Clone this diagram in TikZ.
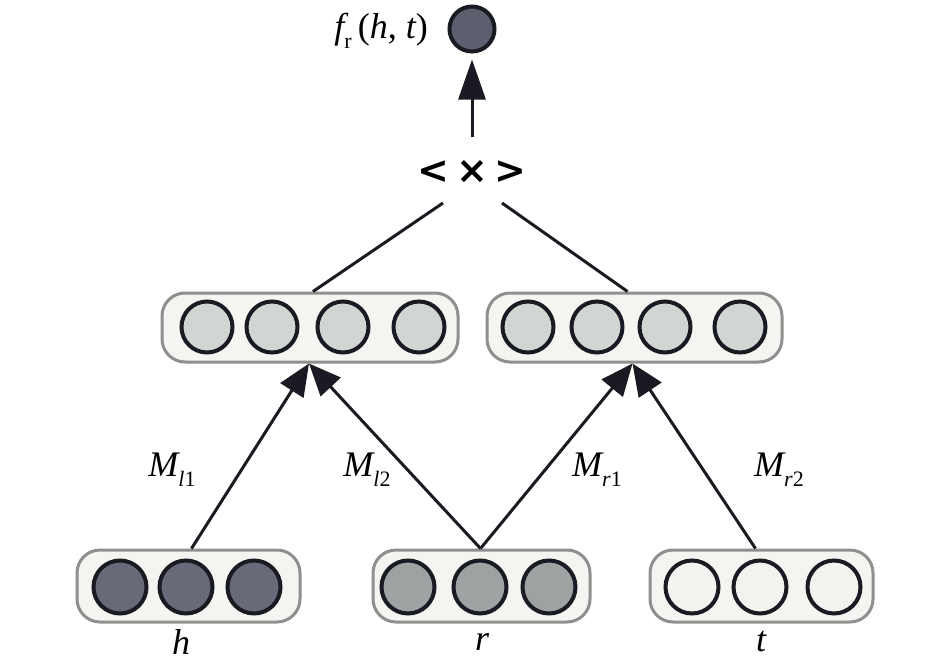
\documentclass[tikz,border=0pt]{standalone}
\usepackage{fontspec}
\setmainfont{Liberation Serif}
\newfontfamily\opfont{DejaVu Sans}
\usetikzlibrary{arrows.meta}
\definecolor{boxfill}{HTML}{F4F4F0}
\definecolor{boxline}{HTML}{8E9090}
\definecolor{midfill}{HTML}{D2D6D2}
\definecolor{hfill}{HTML}{676B78}
\definecolor{rfill}{HTML}{9DA2A2}
\definecolor{tfill}{HTML}{F2F2EE}
\definecolor{topfill}{HTML}{5B5F6E}
\definecolor{ink}{HTML}{1A1A22}
\newcommand\lowix[1]{\raisebox{-0.28em}{\fontsize{22}{22}\selectfont #1}}
\tikzset{
  vecbox/.style={draw=boxline, fill=boxfill, line width=3pt, rounded corners=23pt, inner sep=0pt, minimum height=69pt},
  unit/.style={circle, draw=ink, line width=4pt, inner sep=0pt},
  midunit/.style={unit, fill=midfill, minimum size=51pt},
  botunit/.style={unit, minimum size=53pt},
  conn/.style={draw=ink, line width=3pt},
  arr/.style={conn, -{Triangle[length=32pt,width=27pt]}},
  lab/.style={font=\fontsize{36}{38}\selectfont\itshape, inner sep=0pt},
}
\begin{document}
\begin{tikzpicture}[x=1pt,y=-1pt]
\path[use as bounding box] (0,0) rectangle (945,664);
% top output
\node[unit, fill=topfill, minimum size=45pt] (out) at (472,29) {};
\node[lab, anchor=east] (outlab) at (428,31) {f\lowix{\upshape r}\,\upshape(\itshape h\upshape, \itshape t\upshape)};
\node[inner sep=0pt, font=\opfont\bfseries\fontsize{38}{40}\selectfont] (op) at (472,172) {<\,×\,>};
\coordinate (opup) at (472,137);
\coordinate (opL) at (443,203);
\coordinate (opR) at (502,203);
\draw[conn, -{Triangle[length=40pt,width=27pt]}, shorten >=6pt] (opup) -- (out);
% middle boxes
\node[vecbox, minimum width=296pt] (ml) at (310,327.5) {};
\node[vecbox, minimum width=295pt] (mr) at (634.5,327.5) {};
\foreach \x [count=\i] in {207,272,343,419}
  \node[midunit] (ml\i) at (\x,327) {};
\foreach \x [count=\i] in {528,597,665,740}
  \node[midunit] (mr\i) at (\x,327) {};
\draw[conn] (opL) -- ([xshift=3pt]ml.north);
\draw[conn] (opR) -- ([xshift=-7pt]mr.north);
% bottom boxes
\node[vecbox, minimum width=223pt, minimum height=72pt] (bh) at (188.5,586) {};
\node[vecbox, minimum width=217pt, minimum height=72pt] (br) at (481.5,586) {};
\node[vecbox, minimum width=223pt, minimum height=72pt] (bt) at (761.5,586) {};
\foreach \x [count=\i] in {120,186,254}
  \node[botunit, fill=hfill] (bh\i) at (\x,587) {};
\foreach \x [count=\i] in {408,480,549}
  \node[botunit, fill=rfill] (br\i) at (\x,587) {};
\foreach \x [count=\i] in {692,760,834}
  \node[botunit, fill=tfill] (bt\i) at (\x,587) {};
\node[lab] (hl) at (181,642) {h};
\node[lab] (rl) at (482,642) {r};
\node[lab] (tl) at (761,642) {t};
% arrows
\draw[arr] ([xshift=3pt]bh.north) -- ([xshift=-1pt]ml.south);
\draw[arr] ([xshift=-1pt]br.north) -- ([xshift=-1pt]ml.south);
\draw[arr] ([xshift=-1pt]br.north) -- ([xshift=-2pt]mr.south);
\draw[arr] ([xshift=-6pt]bt.north) -- ([xshift=-2pt]mr.south);
% labels
\node[lab] (l1) at (172,470) {M\lowix{l\upshape 1}};
\node[lab] (l2) at (367,470) {M\lowix{l\upshape 2}};
\node[lab] (r1) at (597,470) {M\lowix{r\upshape 1}};
\node[lab] (r2) at (779,470) {M\lowix{r\upshape 2}};
\end{tikzpicture}
\end{document}
